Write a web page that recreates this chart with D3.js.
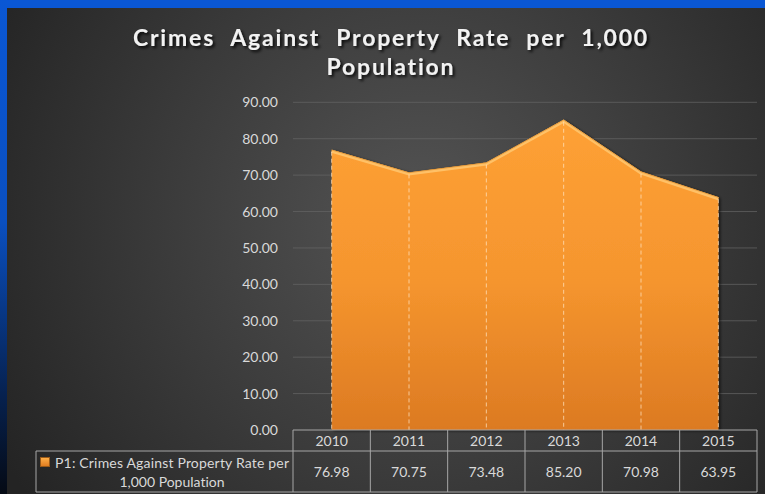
<!DOCTYPE html>
<html><head><meta charset="utf-8">
<script src="https://cdn.jsdelivr.net/npm/d3@7/dist/d3.min.js"></script>
<style>
html,body{margin:0;padding:0;background:#0a57d4;overflow:hidden;}
svg{display:block;}
text{font-variant-ligatures:none;}
</style></head>
<body>
<svg id="chart" width="765" height="494"></svg>
<script>
const years = ["2010","2011","2012","2013","2014","2015"];
const values = [76.98, 70.75, 73.48, 85.20, 70.98, 63.95];
const yTicks = [0,10,20,30,40,50,60,70,80,90];
const seriesName = ["P1: Crimes Against Property Rate per", "1,000 Population"];
const titleLines = ["Crimes Against Property Rate per 1,000", "Population"];

const W = 765, H = 494;
const svg = d3.select("#chart");
const defs = svg.append("defs");

const lg = defs.append("linearGradient").attr("id","leftBlue").attr("x1",0).attr("y1",0).attr("x2",0).attr("y2",1);
lg.append("stop").attr("offset","0%").attr("stop-color","#0a57d4");
lg.append("stop").attr("offset","45%").attr("stop-color","#0a4fc0");
lg.append("stop").attr("offset","80%").attr("stop-color","#06214f");
lg.append("stop").attr("offset","100%").attr("stop-color","#050a14");
svg.append("rect").attr("x",0).attr("y",0).attr("width",W).attr("height",H).attr("fill","#0a57d4");
svg.append("rect").attr("x",0).attr("y",0).attr("width",10).attr("height",H).attr("fill","url(#leftBlue)");

const rg = defs.append("radialGradient").attr("id","panelBg")
  .attr("gradientUnits","userSpaceOnUse").attr("cx",420).attr("cy",220).attr("r",480);
rg.append("stop").attr("offset","0%").attr("stop-color","#545454");
rg.append("stop").attr("offset","55%").attr("stop-color","#3a3a3a");
rg.append("stop").attr("offset","100%").attr("stop-color","#242424");
svg.append("rect").attr("x",7).attr("y",8).attr("width",W-7).attr("height",H-8).attr("fill","url(#panelBg)");

const tf = defs.append("filter").attr("id","tshadow").attr("x","-10%").attr("y","-30%").attr("width","120%").attr("height","160%");
tf.append("feDropShadow").attr("dx",2).attr("dy",2).attr("stdDeviation",1.5).attr("flood-color","#000").attr("flood-opacity",0.85);
const font = "Lato, 'Open Sans', sans-serif";
const titleY = [46, 75];
titleLines.forEach((t,i)=>{
  const el = svg.append("text").attr("text-anchor","middle")
    .attr("font-family",font).attr("font-weight","bold")
    .attr("font-size",23).attr("fill","#f2f2f2").attr("letter-spacing","1.8px")
    .attr("filter","url(#tshadow)")
    .attr("x",391).attr("y",titleY[i]).text(t);
  if (i === 0) {
    const w = el.node().getComputedTextLength();
    const spaces = (t.match(/ /g)||[]).length;
    const ws = Math.max(0, (516 - w)/spaces);
    el.attr("word-spacing", ws.toFixed(2) + "px");
  }
});

const plotLeft = 293, plotRight = 757, baseY = 430, topY = 102.3;
const x = d3.scaleBand().domain(years).range([plotLeft, plotRight]).paddingInner(0).paddingOuter(0);
const y = d3.scaleLinear().domain([0,90]).range([baseY, topY]);
const cx = d => x(d) + x.bandwidth()/2;

svg.append("g").selectAll("line").data(yTicks.filter(t=>t>0)).join("line")
  .attr("x1",plotLeft).attr("x2",plotRight)
  .attr("y1",d=>y(d)).attr("y2",d=>y(d))
  .attr("stroke","#666").attr("stroke-width",1).attr("opacity",0.7);

const yAxis = d3.axisLeft(y).tickValues(yTicks).tickFormat(d3.format(".2f")).tickSize(0).tickPadding(0);
const yg = svg.append("g").attr("transform",`translate(278,0)`).call(yAxis);
yg.select(".domain").remove();
yg.selectAll("text").attr("fill","#d9d9d9").attr("font-size",14)
  .attr("font-family",font);

const ag = defs.append("linearGradient").attr("id","areaFill")
  .attr("gradientUnits","userSpaceOnUse").attr("x1",0).attr("y1",topY).attr("x2",0).attr("y2",baseY);
ag.append("stop").attr("offset","0%").attr("stop-color","#ffa236");
ag.append("stop").attr("offset","55%").attr("stop-color","#f5952e");
ag.append("stop").attr("offset","100%").attr("stop-color","#dc7a22");
const af = defs.append("filter").attr("id","ashadow").attr("x","-5%").attr("y","-5%").attr("width","115%").attr("height","115%");
af.append("feDropShadow").attr("dx",2).attr("dy",1).attr("stdDeviation",1.5).attr("flood-color","#000").attr("flood-opacity",0.6);

const data = years.map((yr,i)=>({yr, v: values[i]}));
const area = d3.area().x(d=>cx(d.yr)).y0(baseY).y1(d=>y(d.v));
svg.append("path").datum(data).attr("d",area).attr("fill","url(#areaFill)").attr("filter","url(#ashadow)");

const line = d3.line().x(d=>cx(d.yr)).y(d=>y(d.v)+1.6);
svg.append("path").datum(data).attr("d",line).attr("fill","none")
  .attr("stroke","#ffc46c").attr("stroke-width",3).attr("opacity",0.9);
const line2 = d3.line().x(d=>cx(d.yr)).y(d=>y(d.v)+0.3);
svg.append("path").datum(data).attr("d",line2).attr("fill","none")
  .attr("stroke","#d98a2a").attr("stroke-width",0.8).attr("opacity",0.8);

svg.append("g").selectAll("line").data(data).join("line")
  .attr("x1",d=>cx(d.yr)).attr("x2",d=>cx(d.yr))
  .attr("y1",d=>y(d.v)+2).attr("y2",baseY)
  .attr("stroke","#ffe1bd").attr("stroke-opacity",0.75).attr("stroke-width",1)
  .attr("stroke-dasharray","4,3");

const tableLeft = 36, hdrTop = 430, rowTop = 451, rowBot = 492;
const tcol = "#a6a6a6";
const tg = svg.append("g").attr("stroke",tcol).attr("stroke-width",1).attr("fill","none");
tg.append("line").attr("x1",plotLeft).attr("x2",plotRight).attr("y1",hdrTop).attr("y2",hdrTop);
tg.append("line").attr("x1",tableLeft).attr("x2",plotRight).attr("y1",rowTop).attr("y2",rowTop);
tg.append("line").attr("x1",tableLeft).attr("x2",plotRight).attr("y1",rowBot).attr("y2",rowBot);
tg.append("line").attr("x1",tableLeft).attr("x2",tableLeft).attr("y1",rowTop).attr("y2",rowBot);
const bounds = years.map(yr=>x(yr)).concat([plotRight]);
tg.selectAll("line.v").data(bounds).join("line").attr("class","v")
  .attr("x1",d=>d).attr("x2",d=>d).attr("y1",hdrTop).attr("y2",rowBot);

svg.append("g").selectAll("text").data(years).join("text")
  .attr("x",d=>cx(d)).attr("y",446).attr("text-anchor","middle")
  .attr("font-family",font).attr("font-size",14).attr("fill","#d9d9d9").text(d=>d);
svg.append("g").selectAll("text").data(data).join("text")
  .attr("x",d=>cx(d.yr)).attr("y",477).attr("text-anchor","middle")
  .attr("font-family",font).attr("font-size",14).attr("fill","#d9d9d9").text(d=>d3.format(".2f")(d.v));

const kg = defs.append("linearGradient").attr("id","keyFill").attr("x1",0).attr("y1",0).attr("x2",0).attr("y2",1);
kg.append("stop").attr("offset","0%").attr("stop-color","#ffb14a");
kg.append("stop").attr("offset","100%").attr("stop-color","#e07a1e");
svg.append("rect").attr("x",40.5).attr("y",457.5).attr("width",9).attr("height",9)
  .attr("fill","url(#keyFill)").attr("stroke","#9a5a18").attr("stroke-width",1);

const lt = svg.append("text").attr("text-anchor","middle").attr("font-family",font)
  .attr("font-size",14).attr("fill","#d9d9d9");
lt.append("tspan").attr("x",172).attr("y",468).attr("textLength",234).attr("lengthAdjust","spacing").text(seriesName[0]);
lt.append("tspan").attr("x",172).attr("y",487).text(seriesName[1]);
</script>
</body></html>
